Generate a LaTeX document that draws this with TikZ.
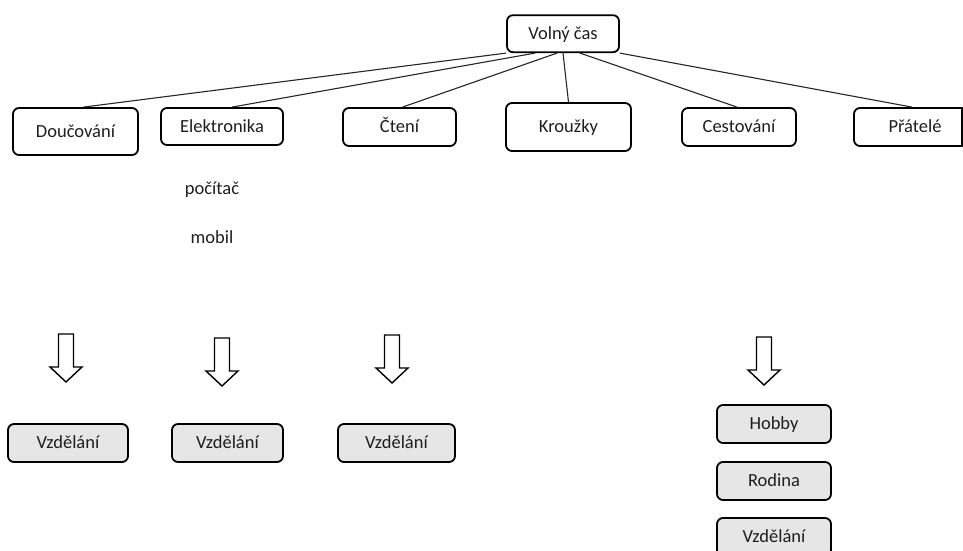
\documentclass[tikz,border=0pt]{standalone}
\usepackage{fontspec}
\setmainfont{Carlito}
\usetikzlibrary{calc}
\definecolor{boxgray}{RGB}{231,230,230}
\definecolor{txt}{RGB}{30,30,30}
\begin{document}
\begin{tikzpicture}[x=1pt,y=-1pt,
  box/.style={draw=black,rounded corners=6pt,line width=1.8pt,inner sep=0pt,
    font=\fontsize{18.5}{22}\selectfont,text=txt,minimum height=38pt,
    text height=14pt,text depth=2.5pt},
  gbox/.style={box,fill=boxgray},
  link/.style={draw=black!85,line width=1.1pt},
  lbl/.style={inner sep=0pt,font=\fontsize{18.5}{22}\selectfont,text=txt},
  barrow/.style={draw=black,line width=1.4pt,fill=white,line join=miter}
]
\useasboundingbox (0,0) rectangle (963,551);
\clip (0,0) rectangle (963,551);

% top level
\node[box,minimum width=112pt,minimum height=37pt] (vc) at (563,33.7) {Volný čas};

% second level
\node[box,minimum width=125pt,minimum height=47pt] (du) at (75.5,131.5) {Doučování};
\node[box,minimum width=122pt,minimum height=37pt] (el) at (222,126.5) {Elektronika};
\node[box,minimum width=113pt] (ct) at (399.5,127) {Čtení};
\node[box,minimum width=125pt,minimum height=48pt] (kr) at (568.5,127) {Kroužky};
\node[box,minimum width=114pt] (cs) at (739,127) {Cestování};
\node[box,minimum width=122pt] (pr) at (915,127) {Přátelé};
\draw[line width=1.8pt] (962,108) -- (962,146);

% connectors
\draw[link] (vc.south west) -- ([xshift=8pt]du.north);
\draw[link] ([xshift=-28pt]vc.south) -- ([xshift=10pt]el.north);
\draw[link] ([xshift=-6pt]vc.south) -- ([xshift=3pt]ct.north);
\draw[link] (vc.south) -- (kr.north);
\draw[link] ([xshift=17pt]vc.south) -- ([xshift=-2pt]cs.north);
\draw[link] (vc.south east) -- ([xshift=-3pt]pr.north);

% free labels
\node[lbl] (pc) at (212,190) {počítač};
\node[lbl] (mb) at (212,237) {mobil};

% block arrows
\newcommand\blockarrow[2]{%
  \draw[barrow] (#1-7.5,#2) -- (#1+7.5,#2) -- (#1+7.5,#2+33) -- (#1+16,#2+33)
    -- (#1,#2+48) -- (#1-16,#2+33) -- (#1-7.5,#2+33) -- cycle;}
\blockarrow{66}{334}
\blockarrow{222}{338}
\blockarrow{392}{335}
\blockarrow{764}{337}

% bottom boxes
\node[gbox,minimum width=120pt] (v1) at (68,443) {Vzdělání};
\node[gbox,minimum width=111pt] (v2) at (227.5,443) {Vzdělání};
\node[gbox,minimum width=117pt] (v3) at (396.5,443) {Vzdělání};
\node[gbox,minimum width=114pt] (hb) at (774,424) {Hobby};
\node[gbox,minimum width=114pt] (rd) at (774,481) {Rodina};
\node[gbox,minimum width=114pt] (v4) at (774,537) {Vzdělání};
\end{tikzpicture}
\end{document}
